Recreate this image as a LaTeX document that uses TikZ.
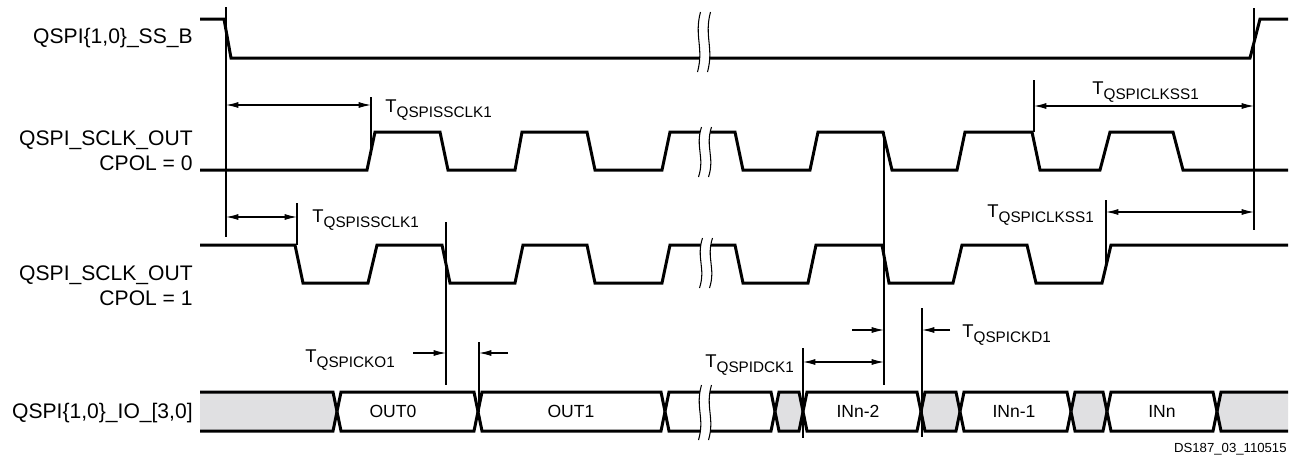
\documentclass[tikz,border=0pt]{standalone}
\usepackage{fontspec}
\setmainfont{Liberation Sans}
\usetikzlibrary{arrows.meta}
\definecolor{busgray}{RGB}{224,224,226}
\newcommand\tlab[1]{{\fontsize{10.5}{12}\selectfont T}\raisebox{-3.4pt}{\fontsize{8.7}{10}\selectfont #1}}
\newcommand\brkmark[3]{%
  \fill[white] (#1+1.5,#2) .. controls (#1-5,{#2+0.4*(#3-#2)}) and (#1+5,{#2+0.6*(#3-#2)}) .. (#1-1.5,#3)
     -- (#1+8.5,#3) .. controls (#1+15,{#2+0.6*(#3-#2)}) and (#1+5,{#2+0.4*(#3-#2)}) .. (#1+11.5,#2) -- cycle;
  \draw[thinl] (#1+1.5,#2) .. controls (#1-5,{#2+0.4*(#3-#2)}) and (#1+5,{#2+0.6*(#3-#2)}) .. (#1-1.5,#3);
  \draw[thinl] (#1+11.5,#2) .. controls (#1+5,{#2+0.4*(#3-#2)}) and (#1+15,{#2+0.6*(#3-#2)}) .. (#1+8.5,#3);
}
\newcommand\busseg[3]{%
  \fill[#3] (#1,411.5) -- (#1+4,392) -- (#2-4,392) -- (#2,411.5) -- (#2-4,431) -- (#1+4,431) -- cycle;
  \draw[bus] (#1,411.5) -- (#1+4,392) -- (#2-4,392) -- (#2,411.5);
  \draw[bus] (#1,411.5) -- (#1+4,431) -- (#2-4,431) -- (#2,411.5);
}
\tikzset{
  wave/.style={line width=1.7pt},
  bus/.style={line width=1.7pt},
  thinl/.style={line width=0.6pt},
  lab/.style={font=\fontsize{12}{14}\selectfont, inner sep=0pt},
  blab/.style={font=\fontsize{10}{12}\selectfont, inner sep=0pt, anchor=base},
  tl/.style={inner sep=0pt, anchor=base west}
}
\begin{document}
\begin{tikzpicture}[x=0.02cm,y=-0.02cm, >={Latex[length=7pt,width=3.4pt]}]
\useasboundingbox (0,0) rectangle (1294,461);

% signal names
\node[lab,anchor=base east] (l1) at (193,43) {QSPI\{1,0\}\_SS\_B};
\node[lab,anchor=base east] (l2) at (193,145) {QSPI\_SCLK\_OUT};
\node[lab,anchor=base east] (l3) at (193,170) {CPOL = 0};
\node[lab,anchor=base east] (l4) at (193,280) {QSPI\_SCLK\_OUT};
\node[lab,anchor=base east] (l5) at (193,305) {CPOL = 1};
\node[lab,anchor=base east] (l6) at (193,418) {QSPI\{1,0\}\_IO\_[3,0]};

% SS_B
\draw[wave] (200,19) -- (224,19) -- (231,58) -- (1250,58) -- (1260,19) -- (1288,19);

% CPOL = 0
\draw[wave] (200,170) -- (367,170) -- (375,132) -- (440,132) -- (448,170) -- (515,170) -- (522,132)
  -- (587,132) -- (595,170) -- (662,170) -- (670,132) -- (735,132) -- (743,170) -- (810,170)
  -- (818,132) -- (883,132) -- (892,170) -- (957,170) -- (965,132) -- (1032,132) -- (1040,170)
  -- (1100,170) -- (1110,132) -- (1173,132) -- (1183,170) -- (1288,170);

% CPOL = 1
\draw[wave] (200,245) -- (295,245) -- (303,283) -- (368,283) -- (377,245) -- (442,245) -- (450,283)
  -- (515,283) -- (523,245) -- (587,245) -- (595,283) -- (662,283) -- (670,245) -- (735,245)
  -- (743,283) -- (808,283) -- (816,245) -- (882,245) -- (889,283) -- (953,283) -- (962,245)
  -- (1027,245) -- (1036,283) -- (1102,283) -- (1111,245) -- (1288,245);

% IO bus
\fill[busgray] (200,392) -- (333,392) -- (337,411.5) -- (333,431) -- (200,431) -- cycle;
\draw[bus] (200,392) -- (333,392) -- (337,411.5);
\draw[bus] (200,431) -- (333,431) -- (337,411.5);
\busseg{337}{478}{white}
\busseg{478}{665}{white}
\busseg{665}{775}{white}
\busseg{775}{803}{busgray}
\busseg{803}{921}{white}
\busseg{921}{960}{busgray}
\busseg{960}{1071}{white}
\busseg{1071}{1107}{busgray}
\busseg{1107}{1217}{white}
\fill[busgray] (1217,411.5) -- (1221,392) -- (1288,392) -- (1288,431) -- (1221,431) -- cycle;
\draw[bus] (1217,411.5) -- (1221,392) -- (1288,392);
\draw[bus] (1217,411.5) -- (1221,431) -- (1288,431);

\node[blab] (d0) at (393,417) {OUT0};
\node[blab] (d1) at (571,417) {OUT1};
\node[blab] (d2) at (858,417) {INn-2};
\node[blab] (d3) at (1014,417) {INn-1};
\node[blab] (d4) at (1162,417) {INn};

% break marks
\brkmark{699}{12}{72}
\brkmark{700}{127}{177}
\brkmark{701}{238}{288}
\brkmark{700}{385}{440}

% reference lines
\draw[thinl] (226,7) -- (226,237);
\draw[thinl] (371,97) -- (371,155);
\draw[thinl] (297,203) -- (297,245);
\draw[thinl] (446,222) -- (446,385);
\draw[thinl] (479,342) -- (479,411.5);
\draw[thinl] (803,348) -- (803,438);
\draw[thinl] (884,132) -- (884,385);
\draw[thinl] (922,308) -- (922,437);
\draw[thinl] (1034,80) -- (1034,132);
\draw[thinl] (1106,200) -- (1106,265);
\draw[thinl] (1254,8) -- (1254,230);

% timing arrows
\coordinate (a1) at (226,105); \coordinate (a2) at (371,105);
\coordinate (b1) at (226,217); \coordinate (b2) at (297,217);
\coordinate (c1) at (1034,106); \coordinate (c2) at (1254,106);
\coordinate (e1) at (1106,212); \coordinate (e2) at (1254,212);
\coordinate (f1) at (413,353); \coordinate (f2) at (446,353);
\coordinate (g1) at (508,353); \coordinate (g2) at (479,353);
\coordinate (h1) at (852,330); \coordinate (h2) at (884,330);
\coordinate (k1) at (950,330); \coordinate (k2) at (922,330);
\coordinate (m1) at (803,362); \coordinate (m2) at (884,362);
\draw[thinl,<->] (a1) -- (a2);
\draw[thinl,<->] (b1) -- (b2);
\draw[thinl,<->] (c1) -- (c2);
\draw[thinl,<->] (e1) -- (e2);
\draw[thinl,->] (f1) -- (f2);
\draw[thinl,->] (g1) -- (g2);
\draw[thinl,->] (h1) -- (h2);
\draw[thinl,->] (k1) -- (k2);
\draw[thinl,<->] (m1) -- (m2);

% timing labels
\node[tl] (t1) at (385,112) {\tlab{QSPISSCLK1}};
\node[tl] (t2) at (312,222) {\tlab{QSPISSCLK1}};
\node[tl] (t3) at (1092,94) {\tlab{QSPICLKSS1}};
\node[tl] (t4) at (987,217) {\tlab{QSPICLKSS1}};
\node[tl] (t5) at (305,362) {\tlab{QSPICKO1}};
\node[tl] (t6) at (705,367) {\tlab{QSPIDCK1}};
\node[tl] (t7) at (962,337) {\tlab{QSPICKD1}};

\node[inner sep=0pt, anchor=base east, font=\fontsize{7.5}{9}\selectfont] (fn) at (1287,452) {DS187\_03\_110515};
\end{tikzpicture}
\end{document}
